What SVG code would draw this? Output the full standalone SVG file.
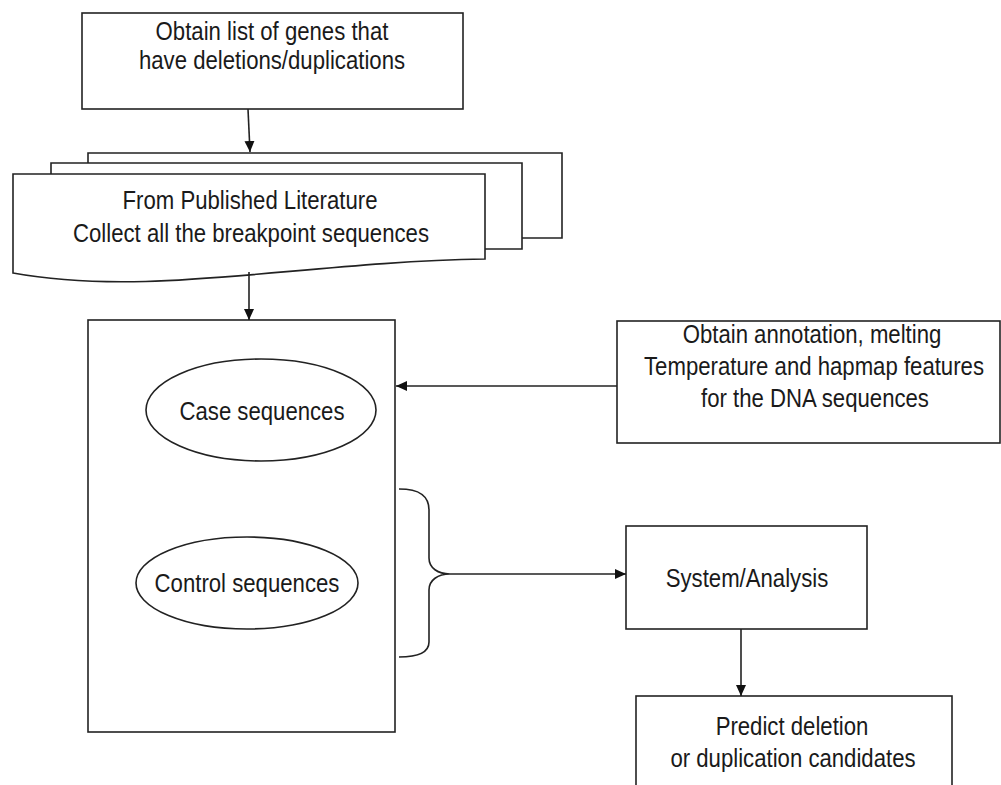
<svg xmlns="http://www.w3.org/2000/svg" width="1001" height="785" viewBox="0 0 1001 785">
<defs>
<style>
.box{fill:#fff;stroke:#222;stroke-width:1.6}
.ln{fill:none;stroke:#222;stroke-width:1.6}
.t{font-family:"Liberation Sans",Arial,sans-serif;font-size:25px;fill:#1a1a1a;text-anchor:middle}
</style>
<marker id="ah" markerWidth="12" markerHeight="10" refX="11" refY="5" orient="auto" markerUnits="userSpaceOnUse">
<path d="M0,0 L11,5 L0,10 Z" fill="#111"/>
</marker>
</defs>
<rect width="1001" height="785" fill="#fff"/>

<g id="node-genes">
<rect class="box" x="82" y="13" width="381" height="96"/>
<text class="t" transform="matrix(0.887 0 0 1 272 0)" x="0" y="40">Obtain list of genes that</text>
<text class="t" transform="matrix(0.887 0 0 1 272 0)" x="0" y="69">have deletions/duplications</text>
</g>

<g id="node-literature">
<path class="box" d="M88,163 L88,153 L562,153 L562,238 L522,238"/>
<path class="box" d="M51,174 L51,163 L522,163 L522,249 L485,249"/>
<path class="box" d="M13,174 L485,174 L485,259 C300,262 150,298 13,273 Z"/>
<text class="t" transform="matrix(0.887 0 0 1 250 0)" x="0" y="209">From Published Literature</text>
<text class="t" transform="matrix(0.887 0 0 1 251 0)" x="0" y="242">Collect all the breakpoint sequences</text>
</g>

<g id="node-sequences">
<rect class="box" x="88" y="320" width="307" height="412"/>
</g>

<g id="node-case">
<ellipse class="box" cx="261" cy="410" rx="115" ry="51"/>
<text class="t" transform="matrix(0.887 0 0 1 262 0)" x="0" y="420">Case sequences</text>
</g>

<g id="node-control">
<ellipse class="box" cx="247" cy="583" rx="111" ry="46"/>
<text class="t" transform="matrix(0.887 0 0 1 247 0)" x="0" y="592">Control sequences</text>
</g>

<g id="node-annotation">
<rect class="box" x="617" y="321" width="383" height="122"/>
<text class="t" transform="matrix(0.887 0 0 1 812 0)" x="0" y="343">Obtain annotation, melting</text>
<text class="t" transform="matrix(0.887 0 0 1 814 0)" x="0" y="375">Temperature and hapmap features</text>
<text class="t" transform="matrix(0.887 0 0 1 815 0)" x="0" y="407">for the DNA sequences</text>
</g>

<g id="node-system">
<rect class="box" x="626" y="526" width="241" height="103"/>
<text class="t" transform="matrix(0.887 0 0 1 747 0)" x="0" y="587">System/Analysis</text>
</g>

<g id="node-predict">
<rect class="box" x="636" y="696" width="316" height="110"/>
<text class="t" transform="matrix(0.887 0 0 1 792 0)" x="0" y="735">Predict deletion</text>
<text class="t" transform="matrix(0.887 0 0 1 793 0)" x="0" y="767">or duplication candidates</text>
</g>

<g id="connectors">
<path class="ln" d="M248,109 L250,152" marker-end="url(#ah)"/>
<path class="ln" d="M249,272 L249,320" marker-end="url(#ah)"/>
<path class="ln" d="M617,386 L396,386" marker-end="url(#ah)"/>
<path class="ln" d="M399,489 C420,489 429,496 429,510 L429,558 C429,568 438,574 450,574 C438,574 429,580 429,590 L429,642 C429,652 420,657 399,657"/>
<path class="ln" d="M450,574 L626,574" marker-end="url(#ah)"/>
<path class="ln" d="M741,629 L741,696" marker-end="url(#ah)"/>
</g>
</svg>
